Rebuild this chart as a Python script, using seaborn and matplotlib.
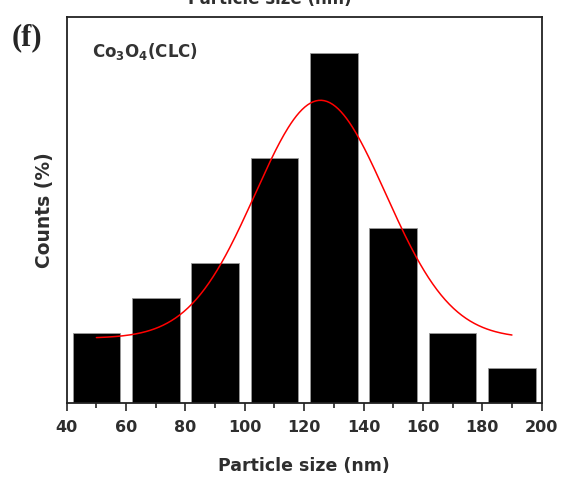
import numpy as np
import pandas as pd
import matplotlib
matplotlib.use("Agg")
import matplotlib.pyplot as plt
import seaborn as sns

# Data
bin_centers = [50, 70, 90, 110, 130, 150, 170, 190]
counts = [2, 3, 4, 7, 10, 5, 2, 1]
# Gaussian fit parameters (offset, amplitude, centre, sigma)
fit_y0 = 1.85
fit_amp = 6.8
fit_xc = 125.5
fit_sigma = 22.0
fit_range = [50, 190]
x_ticks = [40, 60, 80, 100, 120, 140, 160, 180, 200]

sns.set_style("ticks")
plt.rcParams['font.family'] = ['DejaVu Sans']
plt.rcParams['mathtext.default'] = 'regular'

fig = plt.figure(figsize=(5.63, 4.79), dpi=100)
ax = fig.add_axes([0.1185, 0.1587, 0.8435, 0.8058])

df = pd.DataFrame({"size": bin_centers, "count": counts})
sns.barplot(data=df, x="size", y="count", native_scale=True, color="black",
            width=0.8, edgecolor="#9a9a9a", linewidth=0.6, saturation=1, ax=ax)

xs = np.linspace(fit_range[0], fit_range[1], 300)
ys = fit_y0 + fit_amp * np.exp(-(xs - fit_xc) ** 2 / (2 * fit_sigma ** 2))
sns.lineplot(x=xs, y=ys, color="red", linewidth=1.1, ax=ax)

txtc = '#2e2e2e'
ax.set_xlim(40, 200)
ax.set_ylim(0, 11.03)
ax.set_xticks(x_ticks)
ax.set_xticks(np.arange(50, 200, 20), minor=True)
ax.set_xticklabels([str(t) for t in x_ticks], fontsize=11.5, fontweight='bold', color=txtc)
ax.set_yticks([])
ax.tick_params(axis='x', which='major', length=6, width=1.2, direction='out', pad=6)
ax.tick_params(axis='x', which='minor', length=3.5, width=1.2, direction='out')
for s in ax.spines.values():
    s.set_visible(True)
    s.set_linewidth(1.3)
    s.set_color('#222222')

ax.set_xlabel("Particle size (nm)", fontsize=12.5, fontweight='bold', color=txtc, labelpad=16)
ax.set_ylabel("Counts (%)", fontsize=13.5, fontweight='bold', color=txtc, labelpad=9)

ax.text(0.053, 0.896, r"Co$_3$O$_4$(CLC)", transform=ax.transAxes, fontsize=12,
        fontweight='bold', color='#333333', ha='left', va='baseline')

fig.text(0.021, 0.905, "(f)", fontsize=22, fontweight='bold', family='Liberation Serif',
         ha='left', va='baseline')
fig.text(0.48, 0.992, "Particle size (nm)", fontsize=12, fontweight='bold',
         color=txtc, ha='center', va='baseline')

fig.savefig("out.png", dpi=100)
